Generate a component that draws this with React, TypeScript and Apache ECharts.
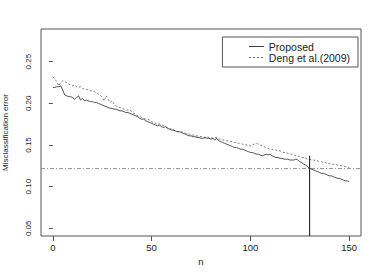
import React, { useEffect, useRef } from "react";
import * as echarts from "echarts";

const proposed = [
  0.219, 0.219, 0.220, 0.220, 0.221, 0.216, 0.210, 0.209, 0.208, 0.208,
  0.207, 0.205, 0.207, 0.209, 0.204, 0.206, 0.203, 0.204, 0.203, 0.202,
  0.202, 0.201, 0.201, 0.200, 0.199, 0.198, 0.197, 0.196, 0.195, 0.194,
  0.194, 0.193, 0.193, 0.192, 0.191, 0.191, 0.190, 0.189, 0.189, 0.188,
  0.187, 0.186, 0.185, 0.184, 0.182, 0.181, 0.181, 0.179, 0.178, 0.177,
  0.176, 0.175, 0.174, 0.173, 0.174, 0.172, 0.171, 0.172, 0.170, 0.169,
  0.168, 0.168, 0.167, 0.166, 0.166, 0.165, 0.164, 0.163, 0.162, 0.161,
  0.161, 0.160, 0.160, 0.159, 0.159, 0.158, 0.158, 0.159, 0.158, 0.158,
  0.157, 0.158, 0.156, 0.158, 0.155, 0.154, 0.153, 0.152, 0.151, 0.150,
  0.149, 0.148, 0.147, 0.147, 0.146, 0.145, 0.145, 0.144, 0.143, 0.142,
  0.141, 0.141, 0.140, 0.139, 0.139, 0.138, 0.137, 0.138, 0.139, 0.138,
  0.139, 0.137, 0.136, 0.135, 0.135, 0.134, 0.134, 0.133, 0.133, 0.133,
  0.132, 0.132, 0.132, 0.133, 0.132, 0.130, 0.129, 0.127, 0.126, 0.124,
  0.122, 0.121, 0.120, 0.119, 0.118, 0.117, 0.116, 0.116, 0.115, 0.114,
  0.113, 0.113, 0.112, 0.111, 0.110, 0.110, 0.109, 0.108, 0.107, 0.107,
  0.106,
];

const deng = [
  0.232, 0.229, 0.226, 0.221, 0.225, 0.227, 0.226, 0.225, 0.223, 0.222,
  0.221, 0.222, 0.220, 0.219, 0.220, 0.218, 0.217, 0.217, 0.216, 0.215,
  0.215, 0.214, 0.213, 0.211, 0.210, 0.207, 0.203, 0.209, 0.205, 0.201,
  0.203, 0.199, 0.197, 0.196, 0.195, 0.194, 0.193, 0.192, 0.192, 0.192,
  0.190, 0.188, 0.187, 0.185, 0.184, 0.183, 0.182, 0.181, 0.181, 0.180,
  0.178, 0.177, 0.176, 0.175, 0.175, 0.174, 0.173, 0.172, 0.171, 0.170,
  0.169, 0.168, 0.167, 0.166, 0.166, 0.166, 0.165, 0.164, 0.164, 0.163,
  0.162, 0.162, 0.161, 0.161, 0.160, 0.160, 0.160, 0.159, 0.160, 0.159,
  0.159, 0.158, 0.159, 0.159, 0.157, 0.157, 0.156, 0.156, 0.155, 0.155,
  0.154, 0.154, 0.153, 0.153, 0.152, 0.152, 0.151, 0.150, 0.150, 0.149,
  0.149, 0.150, 0.151, 0.152, 0.151, 0.150, 0.149, 0.148, 0.147, 0.146,
  0.145, 0.145, 0.144, 0.144, 0.143, 0.143, 0.142, 0.141, 0.141, 0.140,
  0.139, 0.139, 0.138, 0.137, 0.137, 0.136, 0.135, 0.135, 0.134, 0.133,
  0.133, 0.132, 0.132, 0.131, 0.131, 0.130, 0.130, 0.129, 0.129, 0.128,
  0.128, 0.127, 0.127, 0.127, 0.126, 0.126, 0.125, 0.125, 0.124, 0.124,
  0.123,
];

const xTicks = [0, 50, 100, 150];
const yTicks = [0.05, 0.1, 0.15, 0.2, 0.25];
const thresholdLevel = 0.1217;
const cutoffN = 130;
const cutoffTop = 0.137;

const FONT = "'Liberation Sans', Arial, Helvetica, sans-serif";

export default function App() {
  const ref = useRef<HTMLDivElement>(null);
  useEffect(() => {
    if (!ref.current) return;
    const chart = echarts.init(ref.current, null, { renderer: "svg" });
    const xMin = -6;
    const xMax = 156;
    const yMin = 0.0408;
    const yMax = 0.2892;
    chart.setOption({
      animation: false,
      backgroundColor: "#ffffff",
      textStyle: { fontFamily: FONT },
      grid: {
        left: 41,
        top: 29,
        right: 21,
        bottom: 37,
        outerBoundsMode: "none",
        containLabel: false,
        show: true,
        borderColor: "#555555",
        borderWidth: 1,
        backgroundColor: "transparent",
      },
      legend: {
        orient: "vertical",
        right: 24,
        top: 37,
        padding: [4, 8, 4, 26],
        itemGap: 0,
        itemWidth: 15,
        itemHeight: 8,
        borderColor: "#555555",
        borderWidth: 1,
        borderRadius: 0,
        itemStyle: { opacity: 0 },
        lineStyle: { width: 0.9 },
        textStyle: { fontFamily: FONT, fontSize: 10.5, color: "#222", lineHeight: 8 },
        data: ["Proposed", "Deng et al.(2009)"],
      },
      xAxis: {
        type: "value",
        min: xMin,
        max: xMax,
        name: "n",
        nameLocation: "middle",
        nameGap: 19,
        nameTextStyle: { fontFamily: FONT, fontSize: 9.5, color: "#222" },
        axisLine: { show: false },
        splitLine: { show: false },
        axisTick: { show: true, length: 5, lineStyle: { color: "#555" }, customValues: xTicks },
        axisLabel: { margin: 6, fontSize: 9.5, color: "#222", fontFamily: FONT, customValues: xTicks },
      },
      yAxis: {
        type: "value",
        min: yMin,
        max: yMax,
        name: "Misclassification error",
        nameLocation: "middle",
        nameRotate: 90,
        nameGap: 32,
        nameTextStyle: { fontFamily: FONT, fontSize: 8, color: "#222" },
        axisLine: { show: false },
        splitLine: { show: false },
        axisTick: { show: true, length: 4, lineStyle: { color: "#555" }, customValues: yTicks },
        axisLabel: {
          rotate: 90,
          margin: 9,
          fontSize: 8,
          color: "#222",
          fontFamily: FONT,
          customValues: yTicks,
          formatter: (v: number) => v.toFixed(2),
        },
      },
      series: [
        {
          name: "Proposed",
          type: "line",
          showSymbol: false,
          symbol: "none",
          data: proposed.map((v, i) => [i, v]),
          lineStyle: { color: "#2a2a2a", width: 0.8, type: "solid" },
          itemStyle: { color: "#2a2a2a" },
          z: 3,
        },
        {
          name: "Deng et al.(2009)",
          type: "line",
          showSymbol: false,
          symbol: "none",
          data: deng.map((v, i) => [i, v]),
          lineStyle: { color: "#555555", width: 0.8, type: [2, 2] },
          itemStyle: { color: "#555555" },
          z: 2,
        },
        {
          name: "threshold",
          type: "line",
          showSymbol: false,
          symbol: "none",
          data: [
            [xMin, thresholdLevel],
            [xMax, thresholdLevel],
          ],
          lineStyle: { color: "#777777", width: 0.8, type: [4, 2, 1, 2] },
          z: 1,
        },
        {
          name: "cutoff",
          type: "line",
          showSymbol: false,
          symbol: "none",
          data: [
            [cutoffN, cutoffTop],
            [cutoffN, yMin],
          ],
          lineStyle: { color: "#111111", width: 1 },
          z: 4,
        },
      ],
    });
    return () => chart.dispose();
  }, []);
  return (
    <div
      ref={ref}
      style={{ position: "absolute", left: 0, top: 0, width: 382, height: 273 }}
    />
  );
}
